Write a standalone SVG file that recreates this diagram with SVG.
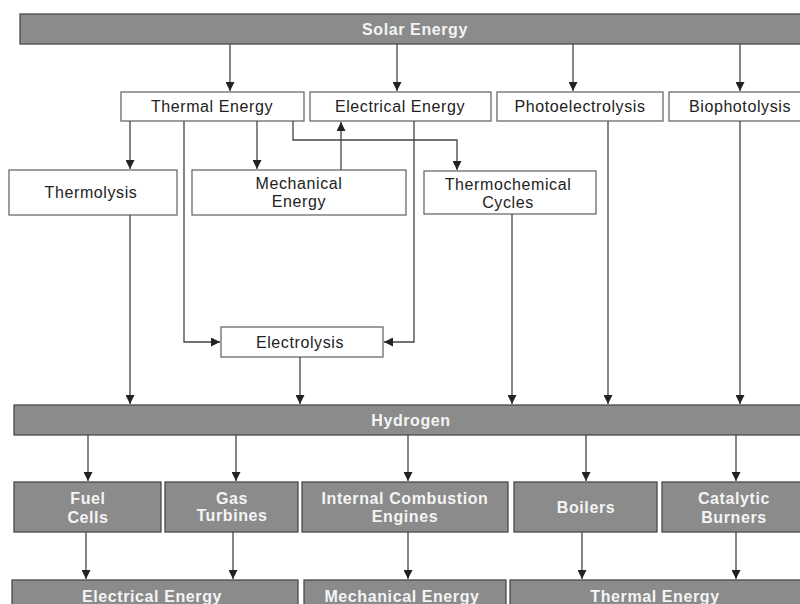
<svg xmlns="http://www.w3.org/2000/svg" width="800" height="604" viewBox="0 0 800 604">
<style>
.bar{fill:#8b8b8b;stroke:#4a4a4a;stroke-width:1.3}
.box{fill:#fff;stroke:#6a6a6a;stroke-width:1.3}
.bt{font-family:"Liberation Sans",Arial,sans-serif;font-weight:bold;font-size:16px;fill:#f4f4f4;text-anchor:middle;letter-spacing:0.6px}
.wt{font-family:"Liberation Sans",Arial,sans-serif;font-size:16px;fill:#222;text-anchor:middle;letter-spacing:0.6px}
.c{fill:none;stroke:#444;stroke-width:1.3}
</style>
<defs>
<marker id="a" markerUnits="userSpaceOnUse" markerWidth="10" markerHeight="9" refX="9" refY="4.5" orient="auto">
<path d="M0,0 L9,4.5 L0,9 Z" fill="#222"/>
</marker>
</defs>
<rect width="800" height="604" fill="#fff"/>

<g id="solar"><rect class="bar" x="20" y="14" width="790" height="30"/><text class="bt" x="415" y="35">Solar Energy</text></g>
<g id="thermal"><rect class="box" x="121" y="92" width="183" height="29"/><text class="wt" x="212" y="112">Thermal Energy</text></g>
<g id="electrical"><rect class="box" x="310" y="92" width="181" height="29"/><text class="wt" x="400" y="112">Electrical Energy</text></g>
<g id="photo"><rect class="box" x="497" y="92" width="166" height="29"/><text class="wt" x="580" y="112">Photoelectrolysis</text></g>
<g id="bio"><rect class="box" x="669" y="92" width="140" height="29"/><text class="wt" x="740" y="112">Biophotolysis</text></g>
<g id="thermolysis"><rect class="box" x="9" y="170" width="168" height="45"/><text class="wt" x="91" y="198">Thermolysis</text></g>
<g id="mechanical"><rect class="box" x="192" y="170" width="214" height="45"/><text class="wt" x="299" y="189">Mechanical</text><text class="wt" x="299" y="207">Energy</text></g>
<g id="thermochem"><rect class="box" x="424" y="171" width="172" height="43"/><text class="wt" x="508" y="190">Thermochemical</text><text class="wt" x="508" y="208">Cycles</text></g>
<g id="electrolysis"><rect class="box" x="221" y="327" width="162" height="30"/><text class="wt" x="300" y="348">Electrolysis</text></g>
<g id="hydrogen"><rect class="bar" x="14" y="405" width="796" height="30"/><text class="bt" x="411" y="426">Hydrogen</text></g>
<g id="fuelcells"><rect class="bar" x="14" y="482" width="147" height="50"/><text class="bt" x="88" y="504">Fuel</text><text class="bt" x="88" y="523">Cells</text></g>
<g id="gasturbines"><rect class="bar" x="165" y="482" width="133" height="50"/><text class="bt" x="232" y="504">Gas</text><text class="bt" x="232" y="521">Turbines</text></g>
<g id="ice"><rect class="bar" x="302" y="482" width="206" height="50"/><text class="bt" x="405" y="504">Internal Combustion</text><text class="bt" x="405" y="522">Engines</text></g>
<g id="boilers"><rect class="bar" x="514" y="482" width="143" height="50"/><text class="bt" x="586" y="513">Boilers</text></g>
<g id="catalytic"><rect class="bar" x="662" y="482" width="148" height="50"/><text class="bt" x="734" y="504">Catalytic</text><text class="bt" x="734" y="523">Burners</text></g>
<g id="out-electrical"><rect class="bar" x="12" y="580" width="286" height="40"/><text class="bt" x="152" y="602">Electrical Energy</text></g>
<g id="out-mechanical"><rect class="bar" x="304" y="580" width="202" height="40"/><text class="bt" x="402" y="602">Mechanical Energy</text></g>
<g id="out-thermal"><rect class="bar" x="510" y="580" width="300" height="40"/><text class="bt" x="655" y="602">Thermal Energy</text></g>

<g id="connectors">
<path class="c" marker-end="url(#a)" d="M230,44 V91"/>
<path class="c" marker-end="url(#a)" d="M397,44 V91"/>
<path class="c" marker-end="url(#a)" d="M573,44 V91"/>
<path class="c" marker-end="url(#a)" d="M740,44 V91"/>
<path class="c" marker-end="url(#a)" d="M130,121 V169"/>
<path class="c" marker-end="url(#a)" d="M257,121 V169"/>
<path class="c" marker-end="url(#a)" d="M293,121 V140 H457 V170"/>
<path class="c" marker-end="url(#a)" d="M341,170 V122"/>
<path class="c" marker-end="url(#a)" d="M184,121 V342 H220"/>
<path class="c" marker-end="url(#a)" d="M414,121 V342 H384"/>
<path class="c" marker-end="url(#a)" d="M130,215 V404"/>
<path class="c" marker-end="url(#a)" d="M300,357 V404"/>
<path class="c" marker-end="url(#a)" d="M512,214 V404"/>
<path class="c" marker-end="url(#a)" d="M608,121 V404"/>
<path class="c" marker-end="url(#a)" d="M740,121 V404"/>
<path class="c" marker-end="url(#a)" d="M88,435 V481"/>
<path class="c" marker-end="url(#a)" d="M236,435 V481"/>
<path class="c" marker-end="url(#a)" d="M408,435 V481"/>
<path class="c" marker-end="url(#a)" d="M586,435 V481"/>
<path class="c" marker-end="url(#a)" d="M736,435 V481"/>
<path class="c" marker-end="url(#a)" d="M86,532 V579"/>
<path class="c" marker-end="url(#a)" d="M233,532 V579"/>
<path class="c" marker-end="url(#a)" d="M408,532 V579"/>
<path class="c" marker-end="url(#a)" d="M582,532 V579"/>
<path class="c" marker-end="url(#a)" d="M736,532 V579"/>
</g>
</svg>
